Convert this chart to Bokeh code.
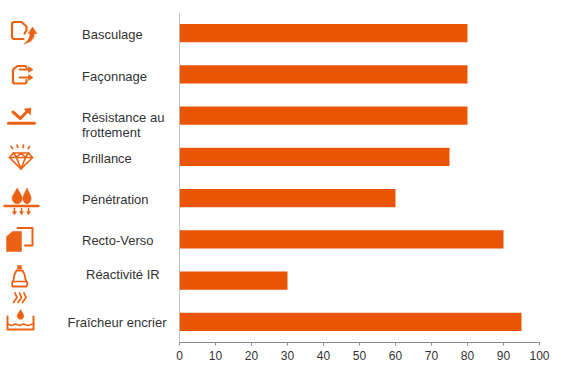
from bokeh.plotting import figure
from bokeh.layouts import row
from bokeh.models import FactorRange, Range1d, Span, FixedTicker
from bokeh.core.properties import value
from bokeh.embed import file_html
from bokeh.resources import INLINE

categories = ["Basculage", "Façonnage", "Résistance au frottement", "Brillance",
              "Pénétration", "Recto-Verso", "Réactivité IR", "Fraîcheur encrier"]
scores = [80, 80, 80, 75, 60, 90, 30, 95]
x_ticks = [0, 10, 20, 30, 40, 50, 60, 70, 80, 90, 100]

label_texts = ["Basculage", "Façonnage", "Résistance au", "frottement", "Brillance",
               "Pénétration", "Recto-Verso", "Réactivité IR", "Fraîcheur encrier"]
label_x = [81.5, 81.5, 81.5, 81.5, 81.5, 81.5, 81.5, 85.5, 67]
label_y = [33.5, 75.5, 116.5, 132, 158, 199, 239.5, 274, 322]

BAR = "#EA5504"
ICON = "#EC6214"
FONT = "Liberation Sans"

# Left panel: labels and pictograms, in page pixel coordinates
left = figure(width=170, height=377, x_range=Range1d(0, 170), y_range=Range1d(342, 12),
              output_backend="svg", toolbar_location=None,
              min_border_left=0, min_border_right=0, min_border_top=12, min_border_bottom=35)
left.frame_width = 170
left.frame_height = 330
left.axis.visible = False
left.grid.visible = False
left.outline_line_color = None

left.text(label_x, label_y, text=label_texts, text_font=value(FONT),
          text_font_size="13px", text_color="#333333",
          text_align="left", text_baseline="middle")

drop = [(0, -1.0), (0.28, -0.62), (0.62, -0.18), (0.82, 0.18), (0.8, 0.5), (0.55, 0.8), (0.22, 0.96),
        (-0.22, 0.96), (-0.55, 0.8), (-0.8, 0.5), (-0.82, 0.18), (-0.62, -0.18), (-0.28, -0.62)]


def lines(*paths, width=2.0):
    left.multi_line([[p[0] for p in path] for path in paths],
                    [[p[1] for p in path] for path in paths],
                    line_color=ICON, line_width=width, line_join="round", line_cap="round")


def fill(*polys):
    left.patches([[p[0] for p in poly] for poly in polys],
                 [[p[1] for p in poly] for poly in polys],
                 fill_color=ICON, line_color=ICON, line_width=0.5)


def teardrop(cx, cy, rx, ry):
    return [(cx + a * rx, cy + b * ry) for a, b in drop]


# Basculage
lines([(24, 33), (26, 30), (26, 26), (21, 21.5), (13, 21.5), (11.5, 23), (11.5, 37), (13, 38.5), (23, 38.5)], width=2.2)
fill([(32, 26.5), (36.5, 33), (33.8, 33), (33.3, 37), (30, 41), (23.5, 43.5), (27.5, 39.5), (29, 36), (29.5, 33), (27.5, 33)])

# Façonnage
lines([(26, 67), (25, 65.5), (17, 65.5), (12.5, 69), (12.5, 82), (14, 83), (25, 83), (26, 81.5), (26, 79.5)], width=2.2)
lines([(19, 69), (29, 69)], [(19, 77), (29, 77)], width=1.8)
fill([(28, 66), (32.5, 69), (28, 72)], [(28, 74), (32.5, 77), (28, 80)])

# Résistance au frottement
lines([(12.5, 111.5), (20, 118), (27, 110.5)], width=3)
fill([(30.5, 107.5), (30, 114.5), (23.5, 108.5)])
lines([(8, 122.8), (34, 122.8)], width=3)

# Brillance
lines([(13, 152.5), (28, 152.5), (32, 157), (20.5, 168.5), (9, 157), (13, 152.5)],
      [(9, 157), (32, 157)],
      [(13, 152.5), (16, 157), (20.5, 168.5), (25, 157), (28, 152.5)],
      [(16, 157), (20.5, 152.5), (25, 157)], width=1.7)
lines([(10.5, 146), (12, 148)], [(16.5, 144.5), (17.2, 147)], [(23, 144.5), (22.6, 147)], [(29, 146), (27.8, 148)], width=1.7)

# Pénétration
fill(teardrop(16.7, 195.5, 6.2, 8), teardrop(26.5, 195.5, 5, 8))
lines([(4, 205.5), (38, 205.5)], width=2.4)
lines([(14, 208), (14, 212)], [(21, 208), (21, 212)], [(28, 208), (28, 212)], width=1.5)
fill([(12, 211), (16, 211), (14, 214.5)], [(19, 211), (23, 211), (21, 214.5)], [(26, 211), (30, 211), (28, 214.5)])

# Recto-Verso
fill([(6, 236), (12, 231), (21, 231), (21, 251), (6, 251)])
lines([(17, 227.5), (32, 227.5), (32, 245), (24.5, 245)], width=2)

# Réactivité IR
lines([(16, 270), (22, 270), (24, 274), (25, 279), (27, 283), (26, 286), (12, 286), (11.5, 283), (13, 279), (14, 274), (16, 270)], width=1.8)
lines([(13, 281), (25, 281)], width=1.3)
fill([(17, 265), (21, 265), (21, 268.5), (17, 268.5)])
lines([(13, 302), (16.5, 297), (14.5, 292.5)], [(17.5, 302), (21, 297), (19, 292.5)],
      [(22, 302), (25.5, 297), (23.5, 292.5)], width=1.8)

# Fraîcheur encrier
lines([(7, 316), (7, 329), (33, 329), (33, 316)], width=2)
lines([(7, 323.5), (11, 325), (15, 323.5), (19, 325), (23, 323.5), (27, 325), (33, 323.5)], width=1.4)
fill(teardrop(20, 314, 4, 5))

# Right panel: the bar chart
p = figure(width=399, height=377, x_range=Range1d(0, 100),
           y_range=FactorRange(factors=categories[::-1]),
           output_backend="svg", toolbar_location=None,
           min_border_left=9, min_border_right=30, min_border_top=12, min_border_bottom=35)
p.frame_width = 360
p.frame_height = 330
p.hbar(y=categories, right=scores, left=0, height=0.44, fill_color=BAR, line_color=None)
p.grid.visible = False
p.outline_line_color = None
p.yaxis.visible = False
p.add_layout(Span(location=0, dimension="height", line_color="#8A8A8A", line_width=1))

ax = p.xaxis[0]
ax.ticker = FixedTicker(ticks=x_ticks)
ax.axis_line_color = "#8A8A8A"
ax.major_tick_line_color = "#8A8A8A"
ax.minor_tick_line_color = None
ax.major_tick_in = 0
ax.major_tick_out = 3
ax.major_label_standoff = 5
ax.major_label_text_font = FONT
ax.major_label_text_font_size = "12px"
ax.major_label_text_color = "#333333"

layout = row(left, p, spacing=0)
open("out.html", "w").write(file_html(layout, INLINE))
